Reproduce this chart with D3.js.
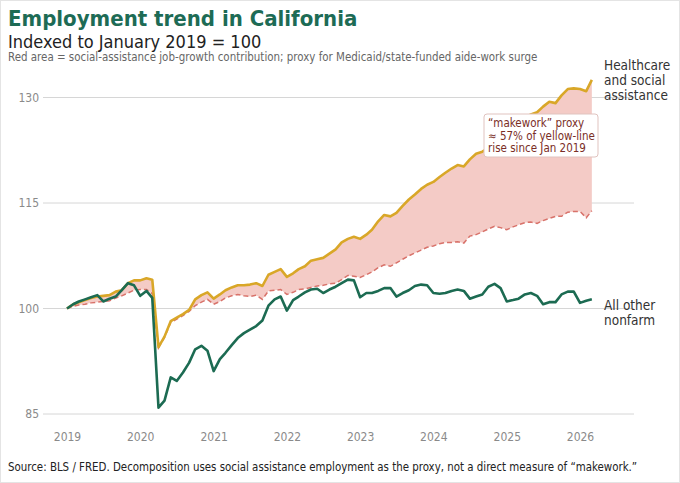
<!DOCTYPE html>
<html>
<head>
<meta charset="utf-8">
<script src="https://cdn.jsdelivr.net/npm/d3@7"></script>
<style>
  body { margin: 0; background: #fff; }
  svg text { font-family: "DejaVu Sans", sans-serif; font-stretch: condensed; }
</style>
</head>
<body>
<div id="chart"></div>
<script>
// Monthly index values, Jan 2019 .. Mar 2026 (Jan 2019 = 100)
const healthcare = [
  100, 100.6, 100.9, 101.2, 101.5, 101.7, 101.8, 101.9, 102.4, 102.6, 103.6, 104.0,
  104.0, 104.3, 104.1, 94.5, 96.0, 98.2, 98.7, 99.2, 99.8, 101.3, 101.9, 102.3,
  101.4, 102.0, 102.6, 103.0, 103.3, 103.3, 103.4, 103.6, 103.2, 104.8, 105.2, 105.6,
  104.5, 105.0, 105.6, 106.0, 106.8, 107.0, 107.2, 107.8, 108.4, 109.4, 109.9, 110.2,
  109.9, 110.5, 111.2, 112.4, 113.3, 113.1, 113.6, 114.6, 115.5, 116.2, 117.0, 117.6,
  118.0, 118.7, 119.3, 119.9, 120.4, 120.2, 121.2, 122.0, 122.3, 122.8, 123.6, 124.3,
  125.0, 125.6, 126.3, 127.0, 127.6, 127.9, 128.7, 129.4, 129.2, 130.3, 131.2, 131.3,
  131.2, 130.9, 132.5
];
// healthcare excluding the social-assistance contribution (dashed line)
const withoutSocial = [
  100, 100.3, 100.5, 100.6, 100.8, 100.9, 101.0, 101.1, 101.5, 101.8, 102.2, 102.6,
  102.7, 102.7, 102.1, 94.4, 95.9, 98.0, 98.5, 99.0, 99.6, 100.4, 100.9, 101.3,
  100.6, 101.0, 101.5, 101.8, 102.0, 101.8, 101.7, 101.9, 101.3, 102.5, 102.6, 102.7,
  102.0, 102.3, 102.7, 102.8, 103.0, 103.2, 103.3, 103.5, 103.6, 104.1, 104.7, 104.6,
  104.4, 104.8, 105.2, 105.8, 106.2, 106.0, 106.5, 107.0, 107.5, 107.9, 108.3, 108.7,
  108.9, 109.2, 109.4, 109.4, 109.5, 109.3, 110.3, 110.5, 110.9, 111.3, 111.7, 111.5,
  111.2, 111.6, 111.9, 112.2, 112.3, 112.1, 112.5, 112.8, 113.1, 113.1, 113.7, 113.8,
  113.8, 112.9, 113.9
];
const otherNonfarm = [
  100, 100.6, 101.0, 101.3, 101.6, 101.9, 101.0, 101.4, 101.7, 102.6, 103.6, 103.3,
  101.8, 102.5, 101.5, 85.9, 86.9, 90.2, 89.7, 90.9, 92.3, 94.2, 94.7, 94.0,
  91.1, 92.8, 93.7, 94.8, 95.8, 96.5, 97.0, 97.5, 98.3, 100.4, 101.3, 101.7,
  99.7, 101.2, 101.7, 102.3, 102.7, 102.8, 102.2, 102.7, 103.1, 103.6, 104.1, 104.0,
  101.6, 102.2, 102.2, 102.5, 102.9, 102.9, 101.7, 102.2, 102.6, 103.2, 103.4, 103.3,
  102.2, 102.1, 102.2, 102.5, 102.7, 102.5, 101.4, 101.7, 102.0, 103.1, 103.5, 102.9,
  101.0, 101.2, 101.4, 102.0, 102.2, 101.8, 100.6, 100.9, 100.9, 102.0, 102.4, 102.4,
  100.8, 101.1, 101.3
];
const yTicks = [85, 100, 115, 130];
const xTickYears = [2019, 2020, 2021, 2022, 2023, 2024, 2025, 2026];
const noteLines = ["\u201cmakework\u201d proxy", "\u2248 57% of yellow-line", "rise since Jan 2019"];

const W = 680, H = 483;
const months = healthcare.map((_, i) => new Date(2019, i, 1));
const data = months.map((d, i) => ({
  date: d, hc: healthcare[i], base: withoutSocial[i], other: otherNonfarm[i]
}));

const svg = d3.select("#chart").append("svg")
  .attr("width", W).attr("height", H);

svg.append("rect").attr("x", 0.5).attr("y", 0.5)
  .attr("width", W - 1).attr("height", H - 1)
  .attr("fill", "#fff").attr("stroke", "#e4e4e4");

const x = d3.scaleTime()
  .domain([new Date(2019, 0, 1), new Date(2026, 0, 1)])
  .range([67, 580]);
const y = d3.scaleLinear().domain([85, 130]).range([414, 97.5]);

// gridlines + y labels
const grid = svg.append("g");
grid.selectAll("line").data(yTicks).enter().append("line")
  .attr("x1", 43).attr("x2", 634)
  .attr("y1", d => y(d)).attr("y2", d => y(d))
  .attr("stroke", "#d6d6d6").attr("stroke-width", 1);
grid.selectAll("text").data(yTicks).enter().append("text")
  .attr("x", 39).attr("y", d => y(d) + 4)
  .attr("text-anchor", "end")
  .attr("font-size", 12).attr("fill", "#8a8a8a")
  .text(d => d);

// x axis labels
const xAxis = d3.axisBottom(x)
  .tickValues(xTickYears.map(yr => new Date(yr, 0, 1)))
  .tickFormat(d3.timeFormat("%Y"))
  .tickSize(0).tickPadding(0);
const gx = svg.append("g").attr("transform", "translate(0,432)").call(xAxis);
gx.select(".domain").remove();
gx.selectAll("text").attr("font-size", 12).attr("fill", "#8a8a8a")
  .attr("font-family", "DejaVu Sans").attr("dy", "0.71em");

// red area between healthcare and the proxy-removed line
const area = d3.area()
  .x(d => x(d.date)).y0(d => y(d.base)).y1(d => y(d.hc));
svg.append("path").datum(data)
  .attr("d", area).attr("fill", "#f4cbc6");

const line = key => d3.line().x(d => x(d.date)).y(d => y(d[key]));

svg.append("path").datum(data)
  .attr("d", line("base"))
  .attr("fill", "none").attr("stroke", "#d8726a")
  .attr("stroke-width", 1.5).attr("stroke-dasharray", "5,3");

svg.append("path").datum(data)
  .attr("d", line("hc"))
  .attr("fill", "none").attr("stroke", "#d9a728")
  .attr("stroke-width", 2.6).attr("stroke-linejoin", "round");

svg.append("path").datum(data)
  .attr("d", line("other"))
  .attr("fill", "none").attr("stroke", "#1c6b52")
  .attr("stroke-width", 2.6).attr("stroke-linejoin", "round");

// series labels
const labelHC = svg.append("text").attr("x", 604).attr("y", 70)
  .attr("font-size", 13.5).attr("fill", "#333");
["Healthcare", "and social", "assistance"].forEach((t, i) =>
  labelHC.append("tspan").attr("x", 604).attr("dy", i ? 15 : 0).text(t));
const labelOther = svg.append("text").attr("x", 604).attr("y", 310)
  .attr("font-size", 13.5).attr("fill", "#333");
["All other", "nonfarm"].forEach((t, i) =>
  labelOther.append("tspan").attr("x", 604).attr("dy", i ? 15 : 0).text(t));

// annotation
const note = svg.append("g").attr("transform", "translate(484,114)");
note.append("rect").attr("width", 114).attr("height", 43).attr("rx", 3)
  .attr("fill", "#fff").attr("stroke", "#e0c3bf");
note.selectAll("text").data(noteLines).enter().append("text")
  .attr("x", 4).attr("y", (d, i) => 13 + i * 12.5)
  .attr("font-size", 11.5).attr("fill", "#7a2e26")
  .text(d => d);

// titles
svg.append("text").attr("x", 8).attr("y", 26)
  .attr("font-size", 22).attr("font-weight", "bold").attr("fill", "#1d6b55")
  .text("Employment trend in California");
svg.append("text").attr("x", 8).attr("y", 48)
  .attr("font-size", 18).attr("fill", "#222")
  .text("Indexed to January 2019 = 100");
svg.append("text").attr("x", 8).attr("y", 61)
  .attr("font-size", 11.45).attr("fill", "#666")
  .text("Red area = social-assistance job-growth contribution; proxy for Medicaid/state-funded aide-work surge");

svg.append("text").attr("x", 8).attr("y", 471)
  .attr("font-size", 11.4).attr("fill", "#222")
  .text("Source: BLS / FRED. Decomposition uses social assistance employment as the proxy, not a direct measure of \u201cmakework.\u201d");
</script>
</body>
</html>
